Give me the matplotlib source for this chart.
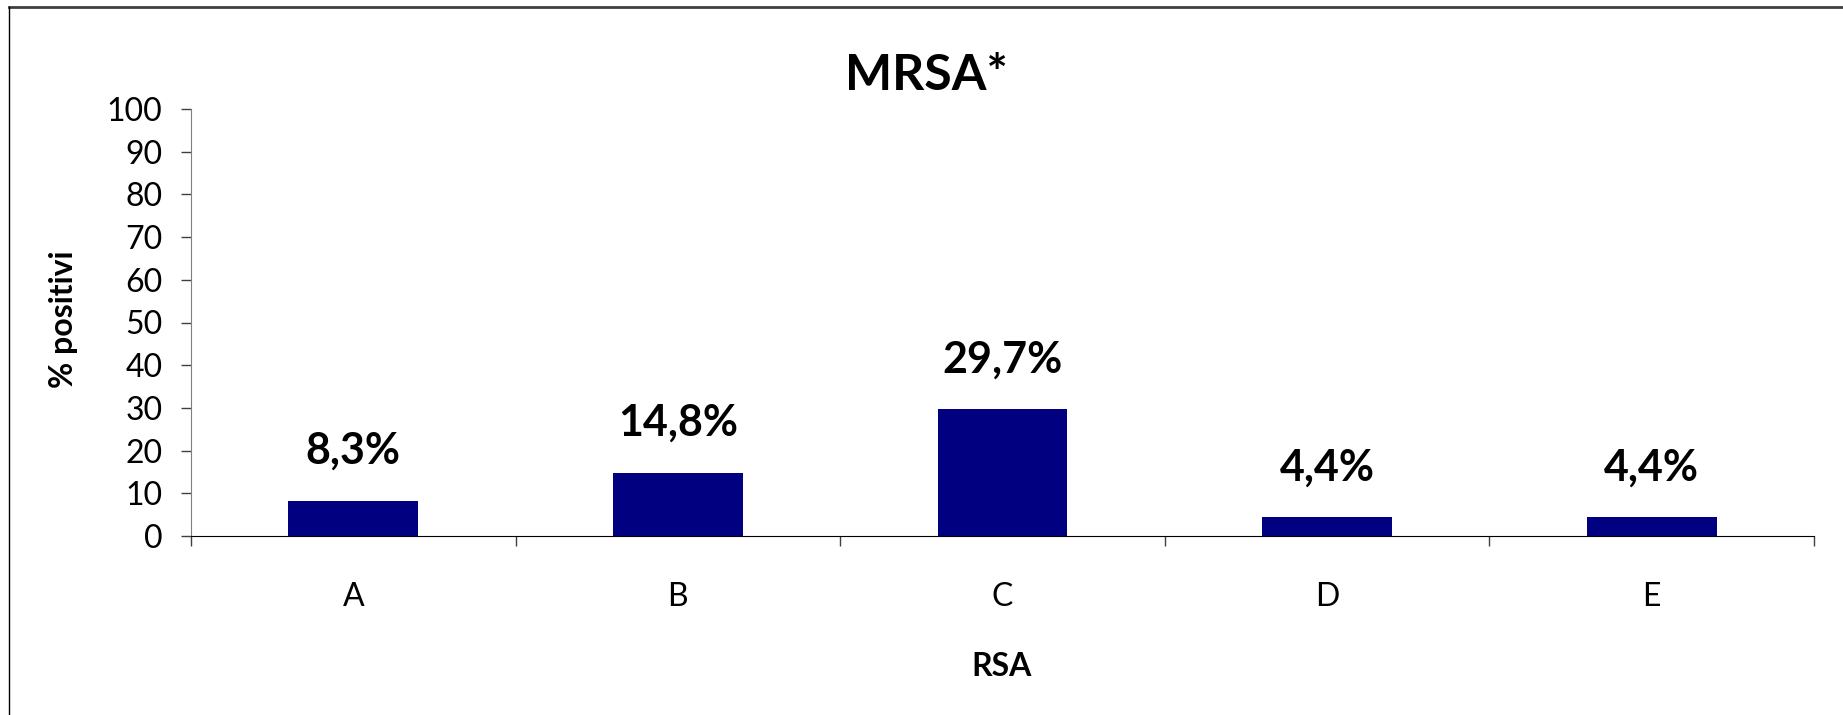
import matplotlib
matplotlib.use("Agg")
import matplotlib.pyplot as plt
from matplotlib.lines import Line2D
import numpy as np

categories = ["A", "B", "C", "D", "E"]
values = [8.3, 14.8, 29.7, 4.4, 4.4]
yticks = [0, 10, 20, 30, 40, 50, 60, 70, 80, 90, 100]
title = "MRSA*"
xlabel = "RSA"
ylabel = "% positivi"

plt.rcParams['font.family'] = ['Lato', 'DejaVu Sans']

W, H = 1843, 715
fig = plt.figure(figsize=(W / 100, H / 100), dpi=100)
L, R, T, B = 191, 1814, 109, 536
ax = fig.add_axes([L / W, 1 - B / H, (R - L) / W, (B - T) / H])

x = np.arange(len(categories))
ax.bar(x, values, width=0.4, color="#000080", zorder=2)
for xi, v in zip(x, values):
    ax.annotate(f"{v:.1f}%".replace(".", ","), (xi, v), xytext=(0, 26.5),
                textcoords="offset points", ha="center", va="baseline",
                fontsize=31, fontweight="bold")

ax.set_xlim(-0.5, len(categories) - 0.5)
ax.set_ylim(0, 100)
ax.set_yticks(yticks)
ax.set_yticklabels([str(t) for t in yticks], fontsize=23)
ax.set_xticks(x)
ax.set_xticklabels(categories, fontsize=23)
ax.tick_params(axis="x", which="major", length=0, pad=33)
ax.set_xticks(np.arange(-0.5, len(categories), 1.0), minor=True)
ax.tick_params(axis="x", which="minor", length=7, width=1, color="#404040", direction="out")
ax.tick_params(axis="y", which="major", length=7.5, width=1, color="#404040", pad=13)

for s in ["top", "right"]:
    ax.spines[s].set_visible(False)
ax.spines["left"].set_color("#808080")
ax.spines["bottom"].set_color("black")

fig.text(926 / W, 1 - 90 / H, title, ha="center", va="baseline", fontsize=36, fontweight="bold")
fig.text(1002 / W, 1 - 676 / H, xlabel, ha="center", va="baseline", fontsize=23, fontweight="bold")
fig.text(64 / W, 1 - 319 / H, ylabel, ha="center", va="center", rotation=90, fontsize=23, fontweight="bold")

fig.add_artist(Line2D([9 / W, 1], [1 - 6.5 / H, 1 - 6.5 / H], transform=fig.transFigure, color="#404040", lw=2))
fig.add_artist(Line2D([9 / W, 9 / W], [0, 1 - 6.5 / H], transform=fig.transFigure, color="black", lw=1))

fig.savefig("out.png", dpi=100)
